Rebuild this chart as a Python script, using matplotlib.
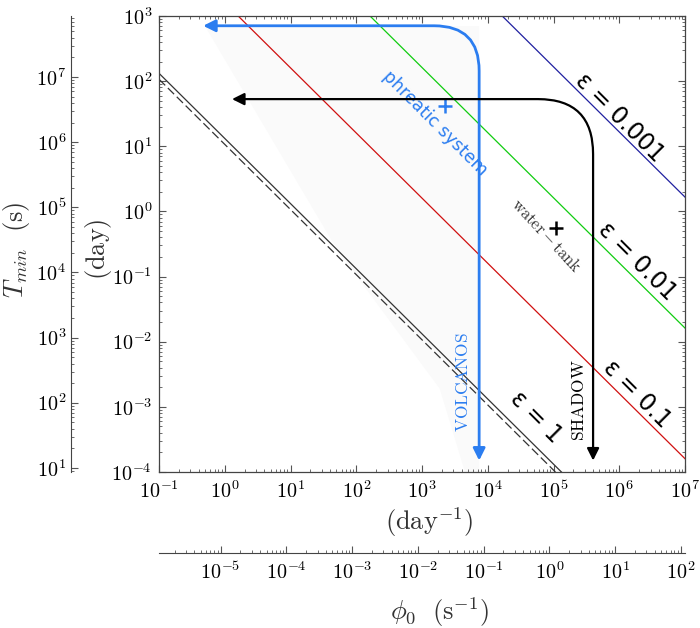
import math
import matplotlib
matplotlib.use('Agg')
import matplotlib.pyplot as plt
from matplotlib.patches import FancyArrowPatch, Polygon
from matplotlib.ticker import LogLocator, FuncFormatter, NullFormatter

plt.rcParams['mathtext.fontset'] = 'cm'
plt.rcParams['font.family'] = ['DejaVu Sans']

SEC_PER_DAY = 86400.0

# axis limits (phi0 in day^-1, Tmin in day)
xlim_day = [1e-1, 1e7]
ylim_day = [1e-4, 1e3]

# epsilon lines (end points)
eps1_solid_x = [0.1, 1.32e5]
eps1_solid_y = [132, 1e-4]
eps1_dash_x = [0.1, 1.07e5]
eps1_dash_y = [107, 1e-4]
eps01_x = [1.6, 1e7]
eps01_y = [1e3, 1.6e-4]
eps001_x = [162, 1e7]
eps001_y = [1e3, 1.62e-2]
eps0001_x = [1.66e4, 1e7]
eps0001_y = [1e3, 1.66]

# shaded region
shade_x = [0.5, 7400, 7400, 4500, 1860, 51]
shade_y = [700, 700, 1e-4, 1e-4, 1.9e-3, 0.26]

# arrows
volc_start = (0.47, 708)
volc_end = (7400, 1.5e-4)
shadow_start = (1.29, 53)
shadow_end = (4.0e5, 1.5e-4)

# points
phreatic_pt = (2.2e3, 41)
tank_pt = (1.1e5, 0.56)

BLUE = '#2b7df0'

fig = plt.figure(figsize=(7, 6.28), dpi=100)
L, R, B, T = 159/700, 685/700, 1-472/628, 1-16/628
ax = fig.add_axes([L, B, R-L, T-B])
ax.set_xscale('log'); ax.set_yscale('log')
ax.set_xlim(xlim_day); ax.set_ylim(ylim_day)

ax.add_patch(Polygon(list(zip(shade_x, shade_y)), closed=True, facecolor='#fafafa', edgecolor='none', zorder=0))

ax.plot(eps1_solid_x, eps1_solid_y, color='#333333', lw=0.9)
ax.plot(eps1_dash_x, eps1_dash_y, color='#333333', lw=0.9, ls=(0, (7, 3)))
ax.plot(eps01_x, eps01_y, color='#d01010', lw=0.9)
ax.plot(eps001_x, eps001_y, color='#10cc10', lw=0.9)
ax.plot(eps0001_x, eps0001_y, color='#2020a0', lw=0.9)

ax.add_patch(FancyArrowPatch(posA=volc_start, posB=volc_end, arrowstyle='<|-|>',
                             connectionstyle='angle,angleA=0,angleB=90,rad=45',
                             mutation_scale=18, color=BLUE, lw=2.0, shrinkA=0, shrinkB=0, zorder=5))
ax.add_patch(FancyArrowPatch(posA=shadow_start, posB=shadow_end, arrowstyle='<|-|>',
                             connectionstyle='angle,angleA=0,angleB=90,rad=55',
                             mutation_scale=18, color='black', lw=1.6, shrinkA=0, shrinkB=0, zorder=5))

ax.plot([phreatic_pt[0]], [phreatic_pt[1]], marker='+', color=BLUE, ms=10, mew=1.8)
ax.plot([tank_pt[0]], [tank_pt[1]], marker='+', color='black', ms=10, mew=1.8)

ax.text(1.0e6, 27.5, 'ε = 0.001', rotation=-45, fontsize=17, ha='center', va='center', rotation_mode='anchor')
ax.text(1.86e6, 0.17, 'ε = 0.01', rotation=-45, fontsize=17, ha='center', va='center', rotation_mode='anchor')
ax.text(1.86e6, 1.6e-3, 'ε = 0.1', rotation=-45, fontsize=17, ha='center', va='center', rotation_mode='anchor')
ax.text(5.5e4, 6.9e-4, 'ε = 1', rotation=-45, fontsize=17, ha='center', va='center', rotation_mode='anchor')
ax.text(1.55e3, 22.5, 'phreatic system', rotation=-45, fontsize=12.5, color=BLUE, ha='center', va='center', rotation_mode='anchor')
ax.text(7.8e4, 0.42, r'$\mathrm{water}-\mathrm{tank}$', rotation=-47, fontsize=12, color='#333333', ha='center', va='center', rotation_mode='anchor')
ax.text(4.2e3, 2.4e-3, r'$\mathrm{VOLCANOS}$', rotation=90, fontsize=12.5, color=BLUE, ha='center', va='center')
ax.text(2.45e5, 1.26e-3, r'$\mathrm{SHADOW}$', rotation=90, fontsize=12.5, color='black', ha='center', va='center')

def pow10_label(v, pos):
    if v <= 0:
        return ''
    e = int(round(math.log10(v)))
    return r'$10^{%d}$' % e

def style_log_axis(axis_obj):
    axis_obj.set_major_locator(LogLocator(base=10, numticks=20))
    axis_obj.set_minor_locator(LogLocator(base=10, subs=range(2, 10), numticks=20))
    axis_obj.set_major_formatter(FuncFormatter(pow10_label))
    axis_obj.set_minor_formatter(NullFormatter())

style_log_axis(ax.xaxis); style_log_axis(ax.yaxis)
ax.tick_params(which='both', direction='in', top=True, right=True, color='#555555', labelcolor='black', labelsize=14.5)
ax.tick_params(which='major', length=5, width=0.8)
ax.tick_params(which='minor', length=2.5, width=0.6)
ax.tick_params(axis='y', pad=5)
ax.tick_params(axis='x', pad=6)
for s in ax.spines.values():
    s.set_color('#444444'); s.set_linewidth(0.9)

# secondary y axis (seconds)
axy = fig.add_axes([71/700, B, 0.0005, T-B])
axy.set_yscale('log')
axy.set_ylim(ylim_day[0]*SEC_PER_DAY, ylim_day[1]*SEC_PER_DAY)
for s in ['top', 'right', 'bottom']:
    axy.spines[s].set_visible(False)
axy.spines['left'].set_color('#444444')
axy.set_xticks([])
axy.patch.set_visible(False)
style_log_axis(axy.yaxis)
axy.tick_params(axis='y', which='both', direction='in', color='#555555', labelsize=14.5)
axy.tick_params(axis='y', which='major', length=5)
axy.tick_params(axis='y', which='minor', length=2.5)

# secondary x axis (s^-1)
axx = fig.add_axes([L, 1-553/628, R-L, 0.0005])
axx.set_xscale('log')
axx.set_xlim(xlim_day[0]/SEC_PER_DAY, xlim_day[1]/SEC_PER_DAY)
for s in ['top', 'right', 'left']:
    axx.spines[s].set_visible(False)
axx.spines['bottom'].set_color('#444444')
axx.set_yticks([])
axx.patch.set_visible(False)
style_log_axis(axx.xaxis)
axx.tick_params(axis='x', which='both', direction='in', color='#555555', labelsize=14.5, pad=6)
axx.tick_params(axis='x', which='major', length=5)
axx.tick_params(axis='x', which='minor', length=2.5)

# labels
fig.text(17/700, 1-250/628, r'$T_{min}\ \ (\mathrm{s})$', rotation=90, fontsize=19, ha='center', va='center', color='#333333')
fig.text(98/700, 1-249/628, r'$(\mathrm{day})$', rotation=90, fontsize=19, ha='center', va='center', color='#333333')
fig.text(429/700, 1-522/628, r'$(\mathrm{day}^{-1})$', fontsize=19, ha='center', va='center', color='#333333')
fig.text(439/700, 1-612/628, r'$\phi_0\ \ (\mathrm{s}^{-1})$', fontsize=19, ha='center', va='center', color='#333333')

fig.savefig('out.png', dpi=100)
